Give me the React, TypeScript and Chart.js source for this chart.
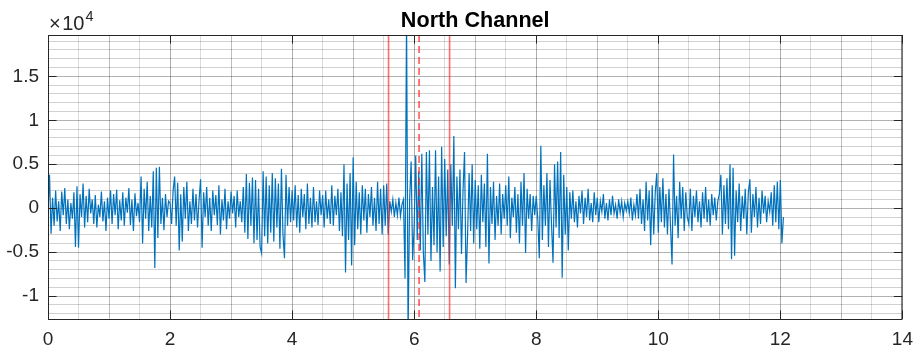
import React, { useEffect, useRef } from "react";
import { Chart, registerables } from "chart.js";

Chart.register(...registerables);

// ---- data ----
const chartTitle = "North Channel";
const sampleInterval = 0.025; // seconds between samples
// North channel signal, in thousands of counts, one value every sampleInterval from t = 0
const northChannelK = [
  -0.5, 3.8, -2.9, 1.2, -2.0, 2.0, -1.5, 0.8, -2.6, 1.9, -0.8, 2.3, -1.8, 1.0, -2.4, 0.6, -1.2, 1.8, -4.4, 2.5,
  -4.5, 1.6, -1.0, 2.8, -2.2, 1.4, -1.6, 2.2, -0.6, 1.0, -1.8, 1.5, -2.2, 0.4, -1.0, 1.9, -1.5, 0.8, -2.6, 1.2,
  -1.2, 2.0, -1.8, 1.6, -0.8, 2.1, -2.4, 0.9, -1.4, 1.8, -2.0, 1.2, -0.5, 2.3, -1.9, 1.0, -2.6, 1.7, -0.9, 0.6,
  -1.6, 3.6, -4.0, 2.2, -1.2, 3.0, -2.6, 1.4, -2.2, 4.2, -6.8, 4.6, -3.4, 4.7, -1.8, 1.2, -2.5, 1.6, -1.0, 0.8,
  0.6, -1.8, 2.0, 3.6, -2.0, 2.9, -4.8, 1.6, -3.8, 2.4, -1.2, 3.0, -2.6, 0.8, -1.8, 2.2, -1.4, 1.6, -2.2, 0.9,
  3.3, -4.5, 1.8, -1.0, 2.4, -2.0, 1.2, -2.6, 2.0, -0.8, 1.5, -1.9, 2.6, -3.0, 1.0, -1.4, 2.2, -2.4, 0.8, -1.2,
  1.9, -0.6, 1.4, -2.2, 2.0, -1.0, 0.8, -1.6, 2.4, -2.8, 3.9, -3.5, 2.9, -2.0, 3.5, -4.0, 3.2, -3.6, 2.2, -4.4,
  -5.1, 4.2, -3.2, 3.6, -4.0, 2.6, -2.8, 4.0, -3.8, 3.4, -2.2, 2.8, -4.6, 4.5, -3.0, -5.7, 3.8, -2.0, 2.4, -1.6,
  2.0, -1.4, 2.6, -2.2, 1.5, -2.8, 2.2, -1.0, 1.6, -2.4, 2.8, -1.8, 1.2, -2.2, 2.4, -1.6, 0.8, -1.9, 2.0, -0.8,
  1.5, -2.2, 2.0, -1.2, 1.0, -1.8, 2.6, -2.0, 1.4, -0.8, 2.2, -2.6, 1.8, -3.2, 5.0, -7.3, 2.8, -3.6, 4.0, -6.5,
  5.8, -4.2, 3.0, -2.4, 1.8, -3.0, 2.6, -1.4, 2.2, -2.8, 1.6, -1.0, 2.4, -2.0, 1.2, -2.6, 3.0, -1.8, 2.2, -3.0,
  2.6, -2.0, 2.8, -3.0, 0.8, -0.4, 1.0, -1.0, 0.6, -0.8, 1.2, -0.9, 0.4, 1.0, -8.0, 22.0, -14.5, 1.0, 5.3, -5.9,
  -2.0, 6.0, -3.6, 4.2, -4.8, 6.2, -5.0, -8.4, 6.4, -3.0, 6.6, -6.0, 2.4, -4.2, 6.6, -5.0, 3.6, -7.2, 7.0, -4.4,
  5.6, -3.2, 4.4, -6.4, 5.0, -2.0, 8.2, -9.1, 3.6, -2.4, 4.4, -5.2, 2.0, 6.4, -8.5, -3.0, 4.0, -2.6, 5.0, -4.0,
  3.2, -2.4, 2.6, -4.6, 3.8, -1.6, 2.8, -4.4, 6.2, -6.3, 2.4, -1.8, 3.0, -3.6, 1.4, -2.0, 2.8, -3.0, 1.6, -1.2,
  2.6, -2.0, 3.6, -3.4, 1.2, -1.0, 2.4, -2.8, 1.6, -4.0, 3.0, -2.0, 4.0, -5.1, 2.2, -1.2, 1.6, -2.6, 1.4, -0.8,
  1.4, -1.2, -5.7, 7.1, -3.6, 2.6, -2.0, 4.0, -4.4, 3.2, -1.8, -6.2, 5.0, -2.2, 5.3, -3.4, 6.4, -7.9, 3.8, -3.0,
  2.4, -4.8, 1.8, -1.2, 2.0, -1.6, 0.8, -2.2, 1.4, -0.6, 2.0, -1.8, 1.2, -1.0, 2.2, -1.4, 0.6, -1.6, 1.8, -0.8,
  1.2, -1.6, 0.8, -0.4, 1.6, -1.2, 0.6, -1.4, 1.0, -0.8, 1.4, -0.6, 0.4, -1.2, 1.0, -0.5, 0.8, -1.0, 0.6, -0.3,
  0.8, -0.6, 1.2, -1.4, 0.4, -0.8, 1.6, -1.2, 2.2, -1.8, 1.0, -2.6, 3.0, -1.4, 2.0, -4.2, 2.6, -3.0, 1.8, 4.0,
  -2.8, 2.4, -1.6, 3.4, -2.2, 1.6, -3.0, 2.2, -2.0, -6.4, 6.1, -2.0, 1.4, -3.4, 3.0, -1.2, 2.4, -2.6, 1.8, -1.0,
  -1.8, 2.2, -2.6, 1.4, -1.0, 2.0, -1.6, 0.8, -2.2, 1.8, -1.2, 2.4, -1.6, 1.0, -2.0, 1.6, -0.8, 1.2, -1.4, 0.8,
  1.6, 3.8, -3.0, 2.6, -1.8, 3.4, -2.4, 5.0, -5.8, 4.6, -5.4, 2.0, -1.6, 2.8, -2.6, 1.4, -1.2, 2.2, -3.0, 1.8,
  3.3, -2.8, 1.6, -1.0, 2.4, -2.2, 1.2, -1.8, 2.0, -0.6, 1.4, -1.6, 0.8, -0.4, 1.8, -2.0, 2.6, -1.6, 3.0, -2.4,
  3.2, -4.0, -1.0,
];
const solidMarkers = [5.58, 6.58]; // seconds
const dashedMarkers = [6.08]; // seconds
const xLimits = [0, 14];
const yLimits = [-12600, 19700];
const xGridStep = 0.5;
const yGridStep = 1000;
const xLabelTicks = [0, 2, 4, 6, 8, 10, 12, 14];
const yLabelTicks = [-10000, -5000, 0, 5000, 10000, 15000];
const yExponent = 4;

const FONT = '"Liberation Sans", Arial, Helvetica, sans-serif';
const AXIS_COLOR = "#262626";

function gridValues(lo: number, hi: number, step: number) {
  const out: number[] = [];
  const start = Math.ceil(lo / step);
  const end = Math.floor(hi / step);
  for (let k = start; k <= end; k++) out.push(Math.round(k * step * 1000) / 1000);
  return out;
}

const frame = {
  id: "matlabFrame",
  afterDraw(chart: any) {
    const { ctx, chartArea: a, scales } = chart;
    const x = scales.x;
    const y = scales.y;
    ctx.save();
    ctx.strokeStyle = AXIS_COLOR;
    ctx.lineWidth = 1;
    const tl = 8.6;
    ctx.beginPath();
    for (const v of xLabelTicks) {
      const px = Math.round(x.getPixelForValue(v)) + 0.5;
      ctx.moveTo(px, a.bottom);
      ctx.lineTo(px, a.bottom - tl);
      ctx.moveTo(px, a.top);
      ctx.lineTo(px, a.top + tl);
    }
    for (const v of yLabelTicks) {
      const py = Math.round(y.getPixelForValue(v)) + 0.5;
      ctx.moveTo(a.left, py);
      ctx.lineTo(a.left + tl, py);
      ctx.moveTo(a.right, py);
      ctx.lineTo(a.right - tl, py);
    }
    ctx.stroke();
    ctx.strokeRect(a.left + 0.5, a.top + 0.5, a.right - a.left - 1, a.bottom - a.top);

    // title
    ctx.fillStyle = "#000";
    ctx.font = `bold 21.6px ${FONT}`;
    ctx.textAlign = "center";
    ctx.textBaseline = "alphabetic";
    ctx.fillText(chartTitle, (a.left + a.right) / 2, 26.5);

    // exponent label: "×10" with a superscript exponent
    ctx.fillStyle = AXIS_COLOR;
    ctx.textAlign = "left";
    ctx.font = `20px ${FONT}`;
    ctx.fillText("\u00d7", a.left + 1, 29.5);
    const wx = ctx.measureText("\u00d7").width;
    ctx.fillText("10", a.left + 2.5 + wx, 29.5);
    const w10 = ctx.measureText("10").width;
    ctx.font = `14.5px ${FONT}`;
    ctx.fillText(String(yExponent), a.left + 3.5 + wx + w10, 20.5);
    ctx.restore();
  },
};

export default function App() {
  const canvasRef = useRef<HTMLCanvasElement | null>(null);

  useEffect(() => {
    const canvas = canvasRef.current;
    if (!canvas) return;

    const signal = northChannelK.map((v, i) => ({ x: i * sampleInterval, y: v * 1000 }));
    const markerSets: any[] = [];
    solidMarkers.forEach((t) =>
      markerSets.push({
        data: [
          { x: t, y: yLimits[0] - 1000 },
          { x: t, y: yLimits[1] + 1000 },
        ],
        borderColor: "rgba(255,30,30,0.65)",
        borderWidth: 1.6,
        pointRadius: 0,
      })
    );
    dashedMarkers.forEach((t) =>
      markerSets.push({
        data: [
          { x: t, y: yLimits[1] },
          { x: t, y: yLimits[0] },
        ],
        borderColor: "rgba(255,30,30,0.75)",
        borderWidth: 1.6,
        borderDash: [7, 4],
        pointRadius: 0,
      })
    );

    const xGrid = gridValues(xLimits[0], xLimits[1], xGridStep);
    const yGrid = gridValues(yLimits[0], yLimits[1], yGridStep);

    const chart = new Chart(canvas, {
      type: "line",
      data: {
        datasets: [
          ...markerSets,
          {
            data: signal,
            borderColor: "#0072BD",
            borderWidth: 1.2,
            pointRadius: 0,
            tension: 0,
          },
        ],
      },
      options: {
        responsive: false,
        animation: false,
        events: [],
        layout: { padding: { top: 35, right: 14, left: 0, bottom: 0 } },
        plugins: {
          legend: { display: false },
          tooltip: { enabled: false },
          title: { display: false },
        },
        scales: {
          x: {
            type: "linear",
            min: xLimits[0],
            max: xLimits[1],
            afterFit: (s: any) => {
              s.height = 32;
            },
            afterBuildTicks: (s: any) => {
              s.ticks = xGrid.map((v) => ({ value: v }));
            },
            border: { display: false },
            grid: {
              drawTicks: false,
              lineWidth: 1,
              color: (c: any) => {
                const v = c.tick ? c.tick.value : 0;
                if (v % 2 === 0) return "rgba(0,0,0,0.32)";
                if (v % 1 === 0) return "rgba(0,0,0,0.26)";
                return "rgba(0,0,0,0.14)";
              },
            },
            ticks: {
              autoSkip: false,
              maxRotation: 0,
              padding: 9,
              color: AXIS_COLOR,
              font: { family: FONT, size: 19 },
              callback: (v: any) => (xLabelTicks.includes(Number(v)) ? String(v) : ""),
            },
          },
          y: {
            type: "linear",
            min: yLimits[0],
            max: yLimits[1],
            afterFit: (s: any) => {
              s.width = 48;
            },
            afterBuildTicks: (s: any) => {
              s.ticks = yGrid.map((v) => ({ value: v }));
            },
            border: { display: false },
            grid: {
              drawTicks: false,
              lineWidth: 1,
              color: (c: any) => {
                const v = c.tick ? c.tick.value : 0;
                if (v % 5000 === 0) return "rgba(0,0,0,0.3)";
                return "rgba(0,0,0,0.18)";
              },
            },
            ticks: {
              autoSkip: false,
              padding: 9,
              color: AXIS_COLOR,
              font: { family: FONT, size: 19 },
              callback: (v: any) =>
                yLabelTicks.includes(Number(v)) ? String(Number(v) / Math.pow(10, yExponent)) : "",
            },
          },
        },
      },
      plugins: [frame],
    } as any);

    return () => chart.destroy();
  }, []);

  return (
    <div style={{ position: "fixed", left: 0, top: 0, width: 922, height: 351, background: "#fff" }}>
      <canvas ref={canvasRef} width={922} height={351} style={{ display: "block" }} />
    </div>
  );
}
